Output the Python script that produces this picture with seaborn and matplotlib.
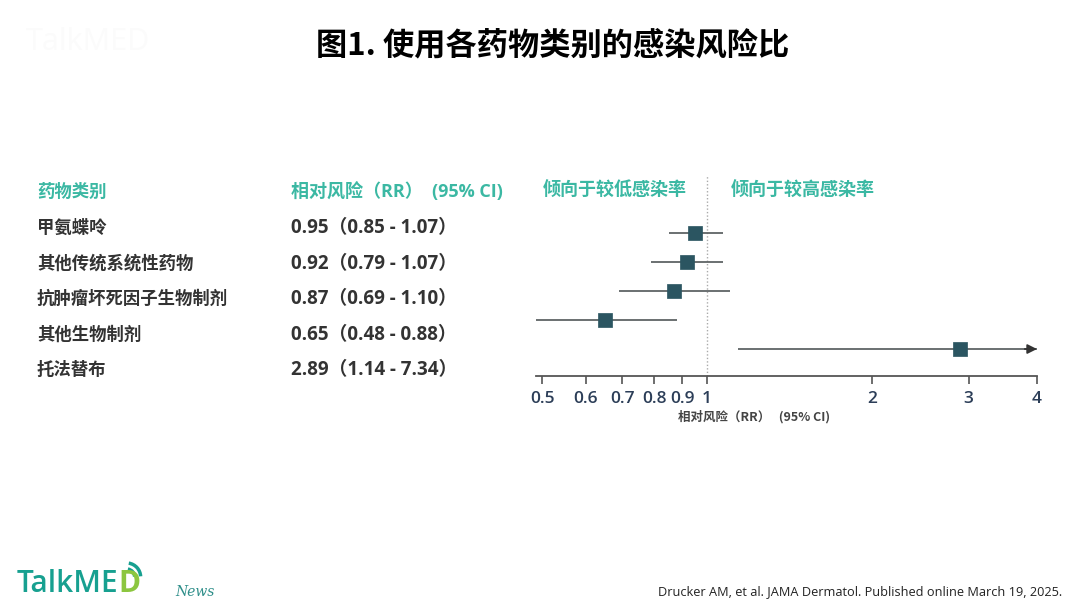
import numpy as np
import pandas as pd
import matplotlib
matplotlib.use("Agg")
import matplotlib.pyplot as plt
from matplotlib.patches import Arc
import seaborn as sns

# data
drugs = ["甲氨蝶呤", "其他传统系统性药物", "抗肿瘤坏死因子生物制剂", "其他生物制剂", "托法替布"]
rr = [0.95, 0.92, 0.87, 0.65, 2.89]
ci_low = [0.85, 0.79, 0.69, 0.48, 1.14]
ci_high = [1.07, 1.07, 1.10, 0.88, 7.34]
tick_vals = [0.5, 0.6, 0.7, 0.8, 0.9, 1, 2, 3, 4]
tick_labels = ["0.5", "0.6", "0.7", "0.8", "0.9", "1", "2", "3", "4"]

df = pd.DataFrame({"drug": drugs, "rr": rr, "lo": ci_low, "hi": ci_high})
df["row"] = np.arange(len(df))

teal = "#3bb8a3"
dark = "#333333"
box = "#2b5561"
line = "#5f6466"

sns.set_theme(style="white")
plt.rcParams["font.family"] = ["Open Sans", "Noto Sans CJK SC", "DejaVu Sans"]
cjk = ["Noto Sans CJK SC", "DejaVu Sans"]
latin = ["Open Sans", "DejaVu Sans"]

W, H = 1080, 606
fig = plt.figure(figsize=(10.8, 6.06), dpi=100)

def fx(px):
    return px / W

def fy(py):
    return 1 - py / H

# forest plot axes
ax = fig.add_axes([fx(536), fy(376), fx(1037) - fx(536), fy(175) - fy(376)])
xmin, xmax = 0.487, 4.0
ax.set_xscale("log")
ax.set_xlim(xmin, xmax)
ax.set_ylim(4.93, -2.0)

ax.axvline(1, color="#aaaaaa", lw=1, ls=(0, (1, 1.5)), zorder=1)
ax.hlines(df["row"], df["lo"], df["hi"].clip(upper=xmax), color=line, lw=1.3, zorder=2)
for _, r in df[df["hi"] > xmax].iterrows():
    ax.annotate("", xy=(xmax, r["row"]), xytext=(xmax * 0.95, r["row"]),
                arrowprops=dict(arrowstyle="-|>", color="#333333", lw=1.3,
                                mutation_scale=14, shrinkA=0, shrinkB=0))
sns.scatterplot(data=df, x="rr", y="row", marker="s", s=105, color=box,
                edgecolor=box, linewidth=0.5, ax=ax, zorder=3, legend=False)

ax.set_xticks(tick_vals)
ax.set_xticklabels(tick_labels)
ax.minorticks_off()
ax.set_yticks([])
ax.set_xlabel("")
ax.set_ylabel("")
for s in ["top", "left", "right"]:
    ax.spines[s].set_visible(False)
ax.spines["bottom"].set_color("#555555")
ax.spines["bottom"].set_linewidth(1.3)
ax.tick_params(axis="x", direction="out", length=6, width=1.2, color="#555555",
               labelsize=12.5, labelcolor="#2c3e58", pad=5, bottom=True)
for t in ax.get_xticklabels():
    t.set_fontfamily(latin)
    t.set_fontweight("semibold")
ax.patch.set_alpha(0)

fig.text(fx(754), fy(417), "相对风险（RR）   (95% CI)", ha="center", va="center",
         fontsize=9, fontweight="bold", color="#444444", family=cjk)

# headers above the forest plot
fig.text(fx(687), fy(190), "倾向于较低感染率", ha="right", va="center",
         fontsize=13, fontweight="bold", color=teal, family=cjk)
fig.text(fx(731), fy(190), "倾向于较高感染率", ha="left", va="center",
         fontsize=13, fontweight="bold", color=teal, family=cjk)

# table on the left
row_px = [228, 264, 299, 335, 370]
fig.text(fx(37), fy(192), "药物类别", ha="left", va="center",
         fontsize=12.5, fontweight="bold", color=teal, family=cjk)
fig.text(fx(291), fy(192), "相对风险（RR）  (95% CI)", ha="left", va="center",
         fontsize=13, fontweight="bold", color=teal)
for (_, r), py in zip(df.iterrows(), row_px):
    fig.text(fx(37), fy(py), r["drug"], ha="left", va="center",
             fontsize=12.5, fontweight="bold", color=dark, family=cjk)
    fig.text(fx(291), fy(py), f"{r['rr']:.2f}（{r['lo']:.2f} - {r['hi']:.2f}）",
             ha="left", va="center", fontsize=13.5,
             fontweight="bold", color=dark)

# title
fig.text(fx(553), fy(45), "图1. 使用各药物类别的感染风险比", ha="center", va="center",
         fontsize=22.5, fontweight="bold", color="black", family=cjk)

# faint watermark top left
fig.text(fx(26), fy(42), "TalkMED", ha="left", va="center", fontsize=22,
         color="#fbfbfb", family=latin)

# logo bottom left
logo = fig.text(fx(17), fy(584), "TalkME", ha="left", va="center", fontsize=21.5,
                color="#17a090", fontweight="semibold", family=latin)
fig.canvas.draw()
bb = logo.get_window_extent()
fig.text(bb.x1 / W, fy(584), "D", ha="left", va="center", fontsize=21.5,
         color="#8cc63f", fontweight="bold", family=latin)
for rad in [8, 14]:
    fig.patches.append(Arc((bb.x1 / W + fx(8), fy(577)), fx(rad * 2), fx(rad * 2) * W / H,
                           theta1=5, theta2=85, transform=fig.transFigure,
                           color="#17a090", lw=2.5))
fig.text(fx(175), fy(592), "News", ha="left", va="center", fontsize=10,
         color="#2f8f8a", style="italic", family=["DejaVu Serif"])

# citation
fig.text(fx(1062), fy(592), "Drucker AM, et al. JAMA Dermatol. Published online March 19, 2025.",
         ha="right", va="center", fontsize=9.2, color="#222222", family=latin)

fig.savefig("out.png", dpi=100, facecolor="white")
